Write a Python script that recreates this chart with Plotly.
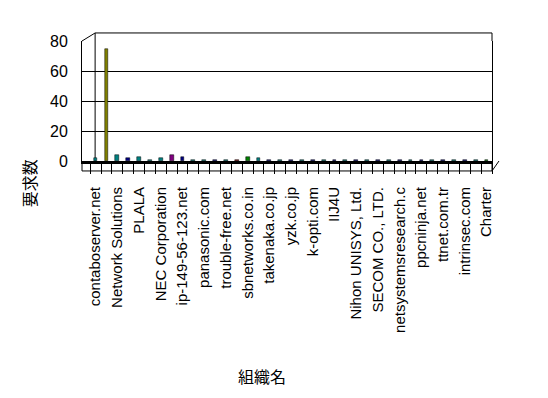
import plotly.graph_objects as go

# 37 organisations; only every other one is labelled on the axis
positions = list(range(1, 38))
tick_positions = list(range(1, 38, 2))
tick_labels = [
    "contaboserver.net", "Network Solutions", "PLALA", "NEC Corporation",
    "ip-149-56-123.net", "panasonic.com", "trouble-free.net", "sbnetworks.co.in",
    "takenaka.co.jp", "yzk.co.jp", "k-opti.com", "IIJ4U", "Nihon UNISYS, Ltd.",
    "SECOM CO., LTD.", "netsystemsresearch.c", "ppcninja.net", "ttnet.com.tr",
    "intrinsec.com", "Charter",
]
values = [2, 75, 4, 2, 3, 1, 2, 4, 3, 1, 1, 1, 1, 1, 3, 2, 1, 1, 1, 1,
          1, 1, 1, 1, 1, 1, 1, 1, 1, 1, 1, 1, 1, 1, 1, 1, 1]
y_ticks = [0, 20, 40, 60, 80]

palette = ["#008080", "#808000", "#008080", "#000080", "#008080", "#008080",
           "#008080", "#800080", "#000080", "#008080", "#008080", "#000080",
           "#008080", "#800000", "#008000", "#008080", "#000080", "#008080",
           "#000080", "#008080", "#000080", "#008080", "#000080", "#008080",
           "#000080", "#008080", "#000080", "#008080", "#000080", "#008080",
           "#000080", "#008080", "#000080", "#008080", "#000080", "#008080",
           "#008000"]

font = "Liberation Sans, Arial, Noto Sans CJK JP, sans-serif"

fig = go.Figure(go.Bar(
    x=positions, y=values, width=0.35,
    marker=dict(color=palette, line=dict(color="#000000", width=0.5)),
))

fig.update_layout(
    width=548, height=398,
    margin=dict(l=74, r=64, t=33, b=245, autoexpand=False),
    paper_bgcolor="white", plot_bgcolor="white",
    showlegend=False, bargap=0,
    font=dict(family=font, size=16, color="#000000"),
    xaxis=dict(
        range=[-0.25, 37.5], tickmode="array", tickvals=tick_positions,
        ticktext=tick_labels, tickangle=-90, ticks="",
        ticklabelstandoff=17, automargin=False,
        tickfont=dict(size=15),
        minor=dict(tickmode="array", tickvals=[p + 0.5 for p in range(0, 38)],
                   ticks="outside", ticklen=10, tickcolor="#000000", tickwidth=1),
        showline=True, linecolor="#000000", linewidth=3, mirror=False,
        showgrid=False, zeroline=False,
    ),
    yaxis=dict(
        range=[0, 80], tickvals=y_ticks, ticks="", automargin=False,
        ticklabelstandoff=10,
        showline=True, linecolor="#000000", linewidth=1, mirror=True,
        showgrid=True, gridcolor="#000000", gridwidth=1, zeroline=False,
        tickfont=dict(size=16),
    ),
    annotations=[
        dict(text="要求数", xref="paper", yref="paper", x=-0.127, y=-0.185,
             xanchor="center", yanchor="middle",
             textangle=-90, showarrow=False, font=dict(size=16)),
        dict(text="組織名", xref="paper", yref="paper", x=0.439, y=-1.8,
             xanchor="center", yanchor="middle",
             showarrow=False, font=dict(size=16)),
    ],
)

# decorative 3D-box outline (walls and floor strip)
box_lines = [
    (0, -0.083, 1, -0.083),       # floor strip bottom
    (0, 0, 0, -0.083),            # floor strip left
    (1, 0, 1, -0.083),            # floor strip right
    (1, -0.083, 1.017, 0.0),      # floor depth diagonal
    (0.032, 0.0, 0.032, 1.067),   # back wall left edge
    (0.032, 1.067, 1.0, 1.067),   # back wall top
    (0, 1, 0.032, 1.067),         # side wall top diagonal
    (1, 1, 1, 1.067),             # back wall right edge
]
for x0, y0, x1, y1 in box_lines:
    fig.add_shape(type="line", xref="paper", yref="paper", x0=x0, y0=y0, x1=x1, y1=y1,
                  line=dict(color="#000000", width=1), layer="below")

fig.write_html("out.html")
